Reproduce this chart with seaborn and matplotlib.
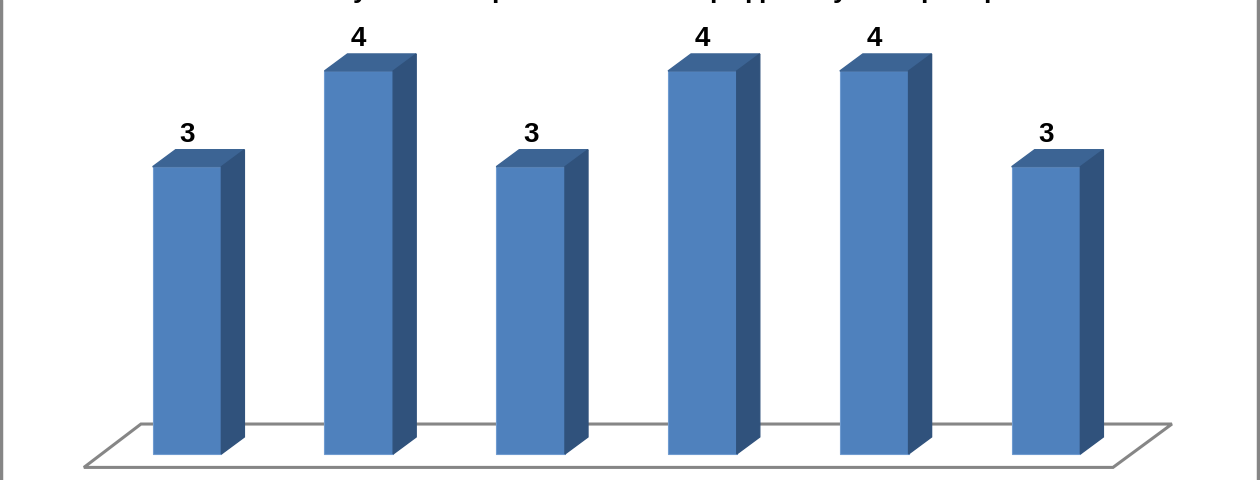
import matplotlib
matplotlib.use('Agg')
import matplotlib.pyplot as plt
import seaborn as sns
import pandas as pd
from matplotlib.patches import Polygon

categories = ['A', 'B', 'C', 'D', 'E', 'F']
values = [3, 4, 3, 4, 4, 3]

# only the descenders of the title are left in the picture
title_letters = ['y', 'p', 'p', 'p', 'p', 'y', 'p', 'p']
title_pixels = [360, 499, 717, 752, 766, 840, 928, 991]

FRONT = '#4f81bd'
TOP = '#3c6494'
SIDE = '#30527c'
GREY = '#868686'

sns.set_style('white')
plt.rcParams['font.family'] = ['Liberation Sans', 'DejaVu Sans']

df = pd.DataFrame({'cat': categories, 'val': values})

fig = plt.figure(figsize=(12.6, 4.8), dpi=100)
ax = fig.add_axes([0, 0, 1, 1])

# floor goes under the bars
floor = [(-0.6, -0.14), (5.39, -0.14), (5.733, 0.313), (-0.268, 0.313)]
ax.add_patch(Polygon(floor, closed=True, fill=False, edgecolor=GREY, lw=2.2, zorder=1))

sns.barplot(data=df, x='cat', y='val', color=FRONT, saturation=1, width=0.4, ax=ax, zorder=3,
            edgecolor='#6f9bd0', linewidth=0.8)

# fake 3d depth on every bar
dx = 0.134
dy = 0.178
for p in ax.containers[0]:
    x0 = p.get_x()
    x1 = x0 + p.get_width()
    h = p.get_height()
    ax.add_patch(Polygon([(x0, h), (x1, h), (x1 + dx, h + dy), (x0 + dx, h + dy)], color=TOP, zorder=3))
    ax.add_patch(Polygon([(x1, 0), (x1 + dx, dy), (x1 + dx, h + dy), (x1, h)], color=SIDE, zorder=3))
    ax.text(x0 + p.get_width() / 2, h + dy + 0.02, str(int(h)), ha='center', va='bottom',
            fontsize=20, fontweight='bold', color='black', zorder=4)

ax.set_xlim(-187 / 171.8, (1260 - 187) / 171.8)
ax.set_ylim(-26 / 95.75, 454 / 95.75)
ax.axis('off')

for letter, px in zip(title_letters, title_pixels):
    fig.text(px / 1260, 1 + 2 / 480, letter, ha='center', va='baseline', fontsize=19,
             fontweight='bold', color='black')

# grey chart frame, cut at the top and bottom of the picture
for xpos in [0.0008, 0.9985]:
    ax.plot([xpos, xpos], [0, 1], transform=ax.transAxes, color=GREY, lw=2.5, clip_on=False)

fig.savefig('out.png', dpi=100)
